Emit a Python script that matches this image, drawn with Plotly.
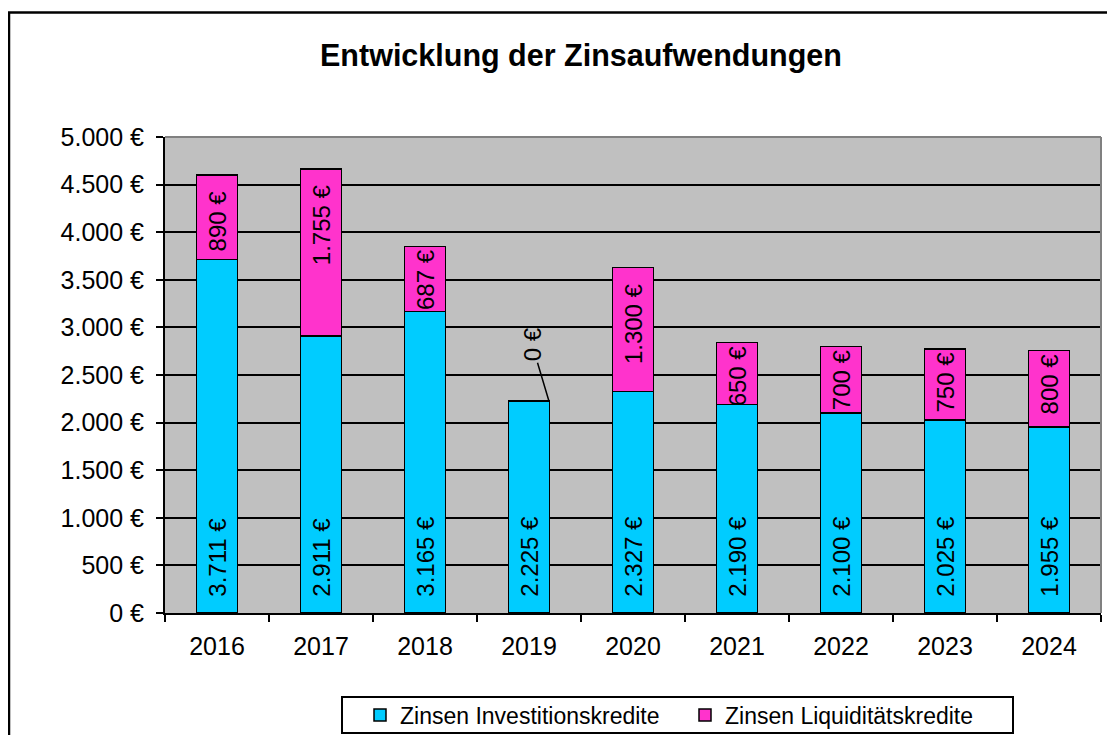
import plotly.graph_objects as go

years = ["2016", "2017", "2018", "2019", "2020", "2021", "2022", "2023", "2024"]
investition = [3711, 2911, 3165, 2225, 2327, 2190, 2100, 2025, 1955]
liquiditaet = [890, 1755, 687, 0, 1300, 650, 700, 750, 800]

CYAN = "#00CCFF"
MAGENTA = "#FF33CC"
PLOT_BG = "#C0C0C0"
FONT = "Liberation Sans, Arial, sans-serif"
PAD = "\u00a0\u00a0"

# page is drawn with an 8px body offset, so coordinates below are figure px
# plot area: x 157..1093, y 129..605
W, H = 1115, 735
L, R, T, B = 157, 22, 129, 130
pw, ph = W - L - R, H - T - B


def px_x(x):
    return (x - L) / pw


def px_y(y):
    return (T + ph - y) / ph


def euro(v):
    return f"{v:,}".replace(",", ".") + " €"


def top_label(v):
    # short segments: label runs to the bar end without extra padding
    if v == 0:
        return ""
    return euro(v) + (PAD if v >= 850 else "")


fig = go.Figure()
fig.add_bar(
    x=years, y=investition, name="Zinsen Investitionskredite",
    marker=dict(color=CYAN, line=dict(color="black", width=1.5)),
    text=[PAD + euro(v) for v in investition], textposition="inside",
    insidetextanchor="start", textangle=-90, constraintext="none",
    textfont=dict(size=24, color="black", family=FONT),
)
fig.add_bar(
    x=years, y=liquiditaet, name="Zinsen Liquiditätskredite",
    marker=dict(color=MAGENTA, line=dict(color="black", width=1.5)),
    text=[top_label(v) for v in liquiditaet], textposition="inside",
    insidetextanchor="end", textangle=-90, constraintext="none",
    textfont=dict(size=24, color="black", family=FONT),
)

# zero-value label with leader line (x as category index)
for i, (a, b) in enumerate(zip(investition, liquiditaet)):
    if b == 0:
        fig.add_annotation(
            x=i, y=a + b, xshift=20, text=euro(b), textangle=-90,
            showarrow=True, arrowhead=0, arrowwidth=1.5, arrowcolor="black",
            ax=-17, ay=-57, font=dict(size=24, color="black", family=FONT),
        )

fig.update_layout(
    width=W, height=H,
    margin=dict(l=L, r=R, t=T, b=B),
    barmode="stack", bargap=0.61,
    paper_bgcolor="white", plot_bgcolor=PLOT_BG,
    separators=",.",
    font=dict(family=FONT, size=25, color="black"),
    title=dict(
        text="<b>Entwicklung der Zinsaufwendungen</b>",
        x=573 / W, xanchor="center", y=1 - 47 / H, yanchor="middle",
        font=dict(size=30.5, color="black", family=FONT),
    ),
    showlegend=True,
    legend=dict(
        orientation="h", traceorder="normal",
        xref="container", yref="container",
        x=352 / W, xanchor="left",
        y=1 - 707 / H, yanchor="middle",
        bgcolor="rgba(0,0,0,0)", borderwidth=0,
        font=dict(size=23, color="black", family=FONT),
        entrywidth=280,
    ),
    uniformtext=dict(minsize=24, mode="show"),
    shapes=[
        # outer chart frame (right and bottom run off the page)
        dict(type="rect", xref="paper", yref="paper",
             x0=px_x(1), x1=px_x(W + 20), y0=px_y(H + 20), y1=px_y(4.5),
             line=dict(color="black", width=2.5), layer="below"),
        # legend frame
        dict(type="rect", xref="paper", yref="paper",
             x0=px_x(334), x1=px_x(1005), y0=px_y(725), y1=px_y(689),
             line=dict(color="black", width=2), layer="below"),
        # plot-area top/right edges
        dict(type="line", xref="paper", yref="paper", x0=0, x1=1, y0=1, y1=1,
             line=dict(color="#808080", width=2)),
        dict(type="line", xref="paper", yref="paper", x0=1, x1=1, y0=0, y1=1,
             line=dict(color="#808080", width=2)),
    ],
)
fig.update_xaxes(
    type="category", range=[-0.5, len(years) - 0.5],
    showline=True, linecolor="black", linewidth=2,
    ticks="outside", tickson="boundaries", ticklen=7, tickcolor="black", tickwidth=2,
    showgrid=False, tickfont=dict(size=25), ticklabelstandoff=10, tickangle=0,
)
fig.update_yaxes(
    range=[0, 5000], dtick=500, tickformat=",d", ticksuffix=" €",
    showline=True, linecolor="black", linewidth=2,
    ticks="outside", ticklen=7, tickcolor="black", tickwidth=2,
    showgrid=True, gridcolor="black", gridwidth=1.5, zeroline=False,
    tickfont=dict(size=25), ticklabelstandoff=7,
)

fig.write_html("out.html")
